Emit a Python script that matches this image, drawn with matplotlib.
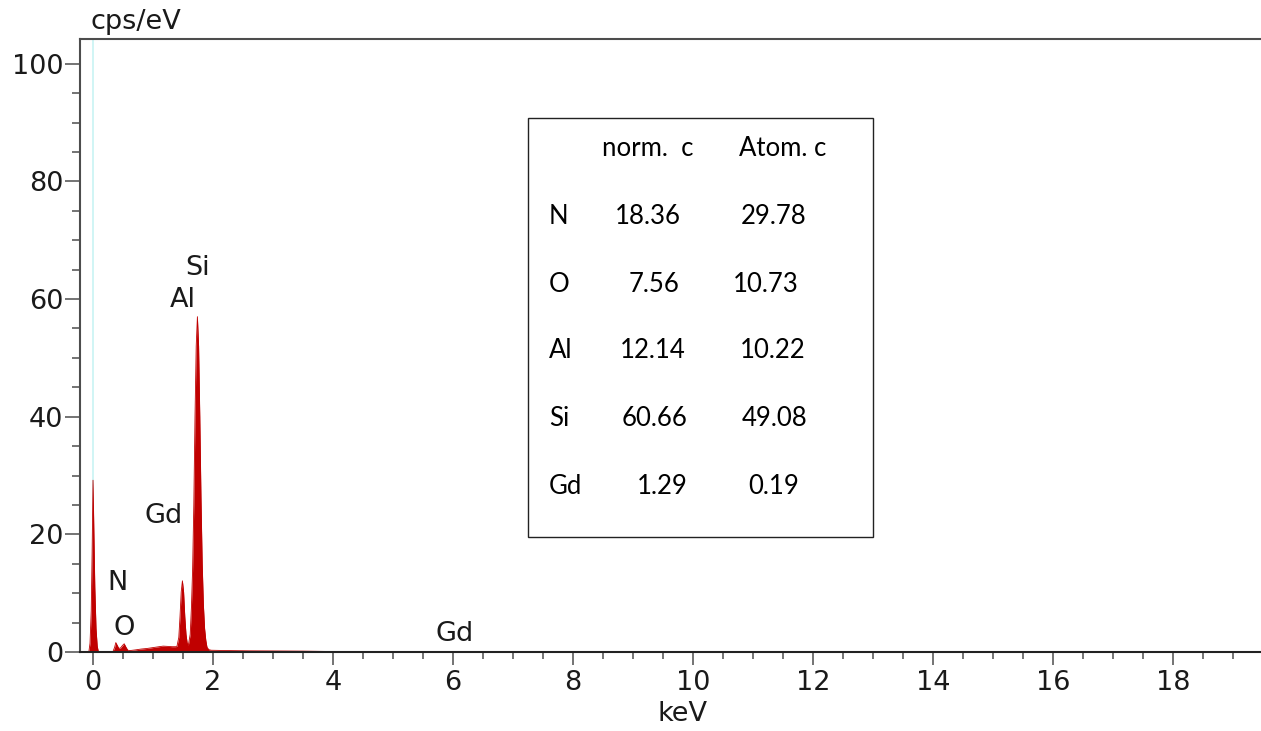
import matplotlib.pyplot as plt
from matplotlib.patches import Rectangle
from matplotlib.ticker import MultipleLocator

plt.rcParams['font.family'] = ['DejaVu Sans']

#%% Data #####################################################################

# spectrum outline (keV, cps/eV)
energy = [-0.22, -0.07, -0.05, -0.03, -0.015, 0.0, 0.015, 0.03, 0.05, 0.07,
          0.09, 0.33, 0.36, 0.38, 0.40, 0.43, 0.46, 0.49, 0.52, 0.55, 0.58,
          0.62, 0.70, 0.80, 0.90, 1.00, 1.10, 1.17, 1.25, 1.32, 1.38,
          1.40, 1.43, 1.45, 1.47, 1.49, 1.51, 1.53, 1.55, 1.57, 1.59,
          1.62, 1.64, 1.66, 1.68, 1.70, 1.72, 1.74, 1.76, 1.78, 1.80,
          1.82, 1.84, 1.86, 1.88, 1.90, 1.93, 1.97, 2.2, 2.6, 3.0, 3.5,
          4.0, 4.3, 5.5, 6.0, 6.3, 19.6]
counts = [0.0, 0.0, 1.5, 7.0, 17.0, 29.2, 20.0, 11.0, 4.0, 1.0,
          0.0, 0.0, 0.8, 1.6, 1.2, 0.6, 0.7, 1.1, 1.4, 0.8, 0.3,
          0.25, 0.35, 0.5, 0.6, 0.75, 0.9, 1.0, 0.95, 0.9, 0.9,
          1.0, 2.5, 6.0, 10.2, 12.1, 10.2, 6.0, 3.0, 1.5, 1.2,
          3.0, 7.5, 14.0, 25.0, 40.0, 52.0, 57.0, 52.0, 40.0, 26.0,
          15.0, 8.0, 4.0, 2.0, 0.8, 0.4, 0.3, 0.25, 0.2, 0.18, 0.15,
          0.08, 0.02, 0.0, 0.08, 0.0, 0.0]

peak_names = ['Si', 'Al', 'Gd', 'N', 'O', 'Gd']
peak_pos = [(1.75, 65.3), (1.50, 59.9), (1.17, 23.1), (0.40, 11.8),
            (0.52, 4.1), (6.03, 3.1)]

elements = ['N', 'O', 'Al', 'Si', 'Gd']
norm_c = ['18.36', '7.56', '12.14', '60.66', '1.29']
atom_c = ['29.78', '10.73', '10.22', '49.08', '0.19']

#%% Plot #####################################################################

W, H = 1261, 731
fig = plt.figure(figsize=(W / 100, H / 100), dpi=100)
ax = fig.add_axes([80 / W, 1 - 652 / H, 1 - 80 / W, (652 - 39) / H])

txt = '#1a1a1a'
axc = '#4d4d4d'
fs = 19.5

ax.axvline(0, color='#c8f4f4', lw=1.2, zorder=1)
ax.fill_between(energy, counts, 0, color='#c00000', lw=0, zorder=2)
ax.plot(energy, counts, color='#c00000', lw=0.6, zorder=2)

ax.set_xlim(-0.217, 19.47)
ax.set_ylim(0, 104.2)

ax.xaxis.set_major_locator(MultipleLocator(2))
ax.xaxis.set_minor_locator(MultipleLocator(0.5))
ax.yaxis.set_major_locator(MultipleLocator(20))
ax.yaxis.set_minor_locator(MultipleLocator(5))

ax.tick_params(axis='x', which='major', length=9.4, width=1.1, color=axc,
               labelsize=fs, labelcolor=txt, pad=3.5)
ax.tick_params(axis='x', which='minor', length=4.7, width=1.1, color=axc)
ax.tick_params(axis='y', which='major', length=10.8, width=1.1, color=axc,
               labelsize=fs, labelcolor=txt, pad=1.2)
ax.tick_params(axis='y', which='minor', length=5.8, width=1.1, color=axc)

for s in ['left', 'top', 'bottom']:
    ax.spines[s].set_color(axc)
    ax.spines[s].set_linewidth(1.5)
ax.spines['bottom'].set_color('#222222')
ax.spines['right'].set_visible(False)

for name, (x, y) in zip(peak_names, peak_pos):
    ax.text(x, y, name, fontsize=fs, color=txt, ha='center', va='center')

fig.text(136 / W, 1 - 22 / H, 'cps/eV', fontsize=fs, color=txt,
         ha='center', va='center')
fig.text(682 / W, 1 - 714 / H, 'keV', fontsize=fs, color=txt,
         ha='center', va='center')

# composition table (pixel layout, top-left origin)
def px(x, y):
    return x / W, 1 - y / H

fig.patches.append(Rectangle(px(528, 537), (873 - 528) / W, (537 - 118) / H,
                             transform=fig.transFigure, fill=False,
                             edgecolor='#222222', lw=1.0))

tf = dict(fontsize=18.5, family=['Lato', 'DejaVu Sans'], color='black',
          ha='left', va='center')
fig.text(*px(602, 148), 'norm.  c', **tf)
fig.text(*px(739, 148), 'Atom. c', **tf)

row_y = [217, 284, 351, 419, 487]
norm_x = [615, 629, 620, 622, 637]
atom_x = [741, 733, 740, 742, 748]
for i, el in enumerate(elements):
    fig.text(*px(549, row_y[i]), el, **tf)
    fig.text(*px(norm_x[i], row_y[i]), norm_c[i], **tf)
    fig.text(*px(atom_x[i], row_y[i]), atom_c[i], **tf)

fig.savefig('out.png', dpi=100)
